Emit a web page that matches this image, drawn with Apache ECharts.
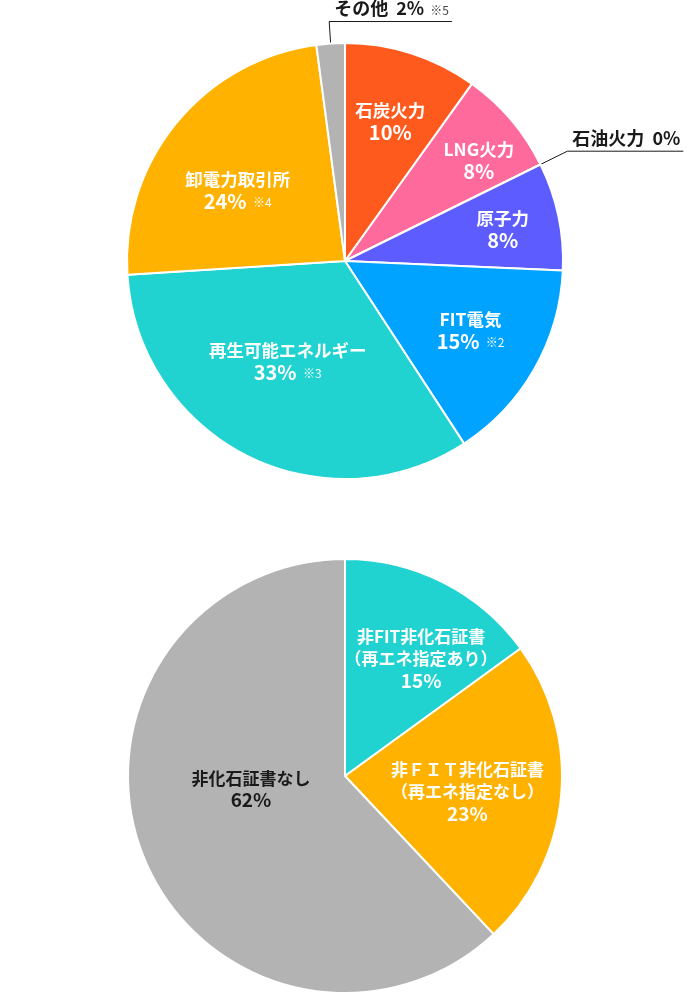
<!DOCTYPE html>
<html>
<head>
<meta charset="utf-8">
<script src="https://cdn.jsdelivr.net/npm/echarts@6/dist/echarts.min.js"></script>
<style>
  html, body { margin: 0; padding: 0; background: #fff; }
  #echart { width: 688px; height: 996px; }
</style>
</head>
<body>
<div id="echart"></div>
<script>
// top pie: power source mix (%), labels show rounded values
var topNames = ['石炭火力', 'LNG火力', '石油火力', '原子力', 'FIT電気', '再生可能エネルギー', '卸電力取引所', 'その他'];
var topValues = [9.9, 7.8, 0, 8.0, 15.1, 33.2, 23.9, 2.1];
var topNotes = ['', '', '', '', '※2', '※3', '※4', '※5'];
var topOutside = ['石油火力', 'その他'];

// bottom pie: non-fossil certificates (%)
var bottomNames = ['非FIT非化石証書\n（再エネ指定あり）', '非ＦＩＴ非化石証書\n（再エネ指定なし）', '非化石証書なし'];
var bottomValues = [15, 23, 62];

// styles
var topColors = ['#ff5a1e', '#ff6a9c', '#999999', '#5c5cff', '#00a3ff', '#20d2d0', '#ffb300', '#b3b3b3'];
var bottomColors = ['#20d2d0', '#ffb300', '#b3b3b3'];
var bottomLabelColors = ['#fff', '#fff', '#1a1a1a'];
var outsideLineLen = { '石油火力': 30, 'その他': 22 };
// label nudges from the default inside spot, in px
var topShift = [[0, 1], [21, -5], [0, 0], [13, -1], [-3, -4], [9, -32], [7, 23], [0, 0]];
var bottomShift = [[18, -3], [-5, 4], [25, -34]];
var font = '"Noto Sans CJK JP", "Noto Sans", sans-serif';

var myChart = echarts.init(document.getElementById('echart'));

var rich = {
  n: { fontSize: 17.5, fontWeight: 'bold', lineHeight: 22, fontFamily: font },
  p: { fontSize: 20, fontWeight: 'bold', lineHeight: 22, fontFamily: font },
  s: { fontSize: 12, lineHeight: 22, fontFamily: font, padding: [2, 0, 0, 3] }
};
var richOut = {
  n: { fontSize: 18, fontWeight: 'bold', lineHeight: 20, fontFamily: font, color: '#1a1a1a' },
  p: { fontSize: 18, fontWeight: 'bold', lineHeight: 20, fontFamily: font, color: '#1a1a1a' },
  s: { fontSize: 12, lineHeight: 20, fontFamily: font, color: '#444', padding: [3, 0, 0, 2] }
};

function pct(v) {
  return Math.round(v) + '%';
}

function insideText(notes) {
  return function (p) {
    var s = '{n|' + p.name + '}\n{p|' + pct(p.value) + '}';
    if (notes && notes[p.dataIndex]) s += ' {s|' + notes[p.dataIndex] + '}';
    return s;
  };
}

function outsideText(p) {
  var s = '{n|' + p.name + '}  {p|' + pct(p.value) + '}';
  if (topNotes[p.dataIndex]) s += ' {s|' + topNotes[p.dataIndex] + '}';
  return s;
}

function nudge(shift) {
  return function (p) {
    var s = shift[p.dataIndex] || [0, 0];
    return { dx: s[0], dy: s[1] };
  };
}

var topVisual = topNames.map(function (n, i) {
  var item = { name: n, value: topValues[i], itemStyle: { color: topColors[i] } };
  if (topOutside.indexOf(n) >= 0) {
    item.label = { show: true, position: 'outside', formatter: outsideText, rich: richOut, fontSize: 18, lineHeight: 20, fontFamily: font };
    item.labelLine = { show: true, length: outsideLineLen[n], length2: 0, lineStyle: { color: '#1a1a1a', width: 1 } };
  }
  return item;
});

var topInside = topNames.map(function (n, i) {
  return { name: n, value: topValues[i], label: { show: topOutside.indexOf(n) < 0 } };
});

var bottomVisual = bottomNames.map(function (n, i) {
  return { name: n, value: bottomValues[i], itemStyle: { color: bottomColors[i] } };
});

var bottomInside = bottomNames.map(function (n, i) {
  return { name: n, value: bottomValues[i], label: { color: bottomLabelColors[i] } };
});

option = {
  animation: false,
  series: [
    {
      type: 'pie',
      center: [345, 261],
      radius: [0, 218],
      startAngle: 90,
      silent: true,
      avoidLabelOverlap: false,
      itemStyle: { borderColor: '#fff', borderWidth: 2 },
      label: { show: false },
      labelLine: { show: false },
      labelLayout: function (p) {
        var pts = p.labelLinePoints;
        if (!pts) return {};
        var elbow = pts[1];
        return {
          x: elbow[0] + 5,
          y: elbow[1] - 3,
          align: 'left',
          verticalAlign: 'bottom',
          labelLinePoints: [pts[0], elbow, [elbow[0] + p.labelRect.width + 8, elbow[1]]]
        };
      },
      data: topVisual
    },
    {
      type: 'pie',
      center: [345, 261],
      radius: [0, 290],
      startAngle: 90,
      silent: true,
      avoidLabelOverlap: false,
      itemStyle: { color: 'transparent', borderWidth: 0 },
      label: { show: true, position: 'inside', color: '#fff', formatter: insideText(topNotes), rich: rich },
      labelLine: { show: false },
      labelLayout: nudge(topShift),
      data: topInside
    },
    {
      type: 'pie',
      center: [345, 776],
      radius: [0, 217],
      startAngle: 90,
      silent: true,
      itemStyle: { borderColor: '#fff', borderWidth: 2 },
      label: { show: false },
      labelLine: { show: false },
      data: bottomVisual
    },
    {
      type: 'pie',
      center: [345, 776],
      radius: [0, 250],
      startAngle: 90,
      silent: true,
      avoidLabelOverlap: false,
      itemStyle: { color: 'transparent', borderWidth: 0 },
      label: {
        show: true, position: 'inside', formatter: insideText(null),
        rich: {
          n: { fontSize: 17, fontWeight: 'bold', lineHeight: 22, fontFamily: font },
          p: { fontSize: 19, fontWeight: 'bold', lineHeight: 22, fontFamily: font }
        }
      },
      labelLine: { show: false },
      labelLayout: nudge(bottomShift),
      data: bottomInside
    }
  ]
};

myChart.setOption(option);
</script>
</body>
</html>
